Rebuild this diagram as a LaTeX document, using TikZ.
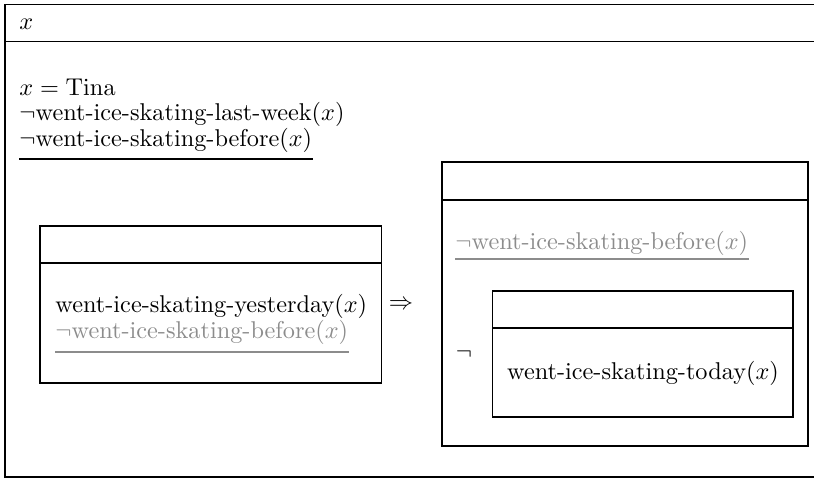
\documentclass[tikz,border=0pt]{standalone}
\begin{document}
\begin{tikzpicture}[x=0.4118pt,y=-0.4118pt,
  box/.style={draw, line width=0.45pt},
  txt/.style={inner sep=0pt, anchor=base west},
  ghost/.style={txt, text=black!45},
  uline/.style={line width=0.45pt},
  gline/.style={line width=0.45pt, draw=black!45}]
\useasboundingbox (0,0) rectangle (814,478);
\clip (0,0) rectangle (814,478);
% outer box
\draw[box, line width=0.6pt] (830,4.5) -- (5,4.5) -- (5,477) -- (830,477);
\draw[box, line width=0.6pt] (5,41.5) -- (830,41.5);
\node[txt] (hx) at (19,29) {$x$};
\node[txt] (c1) at (19,95) {$x=\mathrm{Tina}$};
\node[txt] (c2) at (19,120.5) {$\neg$went-ice-skating-last-week($x$)};
\node[txt] (c3) at (19,146) {$\neg$went-ice-skating-before($x$)};
\draw[uline] (c3.west |- 0,159) -- (c3.east |- 0,159);
% left box
\draw[box] (40,226) rectangle (381.5,383);
\draw[box] (40,263) -- (381.5,263);
\node[txt] (l1) at (55,312) {went-ice-skating-yesterday($x$)};
\node[ghost] (l2) at (55,338) {$\neg$went-ice-skating-before($x$)};
\draw[gline] (l2.west |- 0,352) -- (l2.east |- 0,352);
% implication
\node[inner sep=0pt] (imp) at (401,305) {$\Rightarrow$};
% right box
\draw[box] (442,162) rectangle (808,446);
\draw[box] (442,200) -- (808,200);
\node[ghost] (r1) at (455,249.5) {$\neg$went-ice-skating-before($x$)};
\draw[gline] (r1.west |- 0,259) -- (r1.east |- 0,259);
\node[inner sep=0pt] (neg) at (464,354) {$\neg$};
% negated box
\draw[box] (492.5,291) rectangle (793,417);
\draw[box] (492.5,328) -- (793,328);
\node[txt, anchor=base] (r2) at (643,379) {went-ice-skating-today($x$)};
\end{tikzpicture}
\end{document}
